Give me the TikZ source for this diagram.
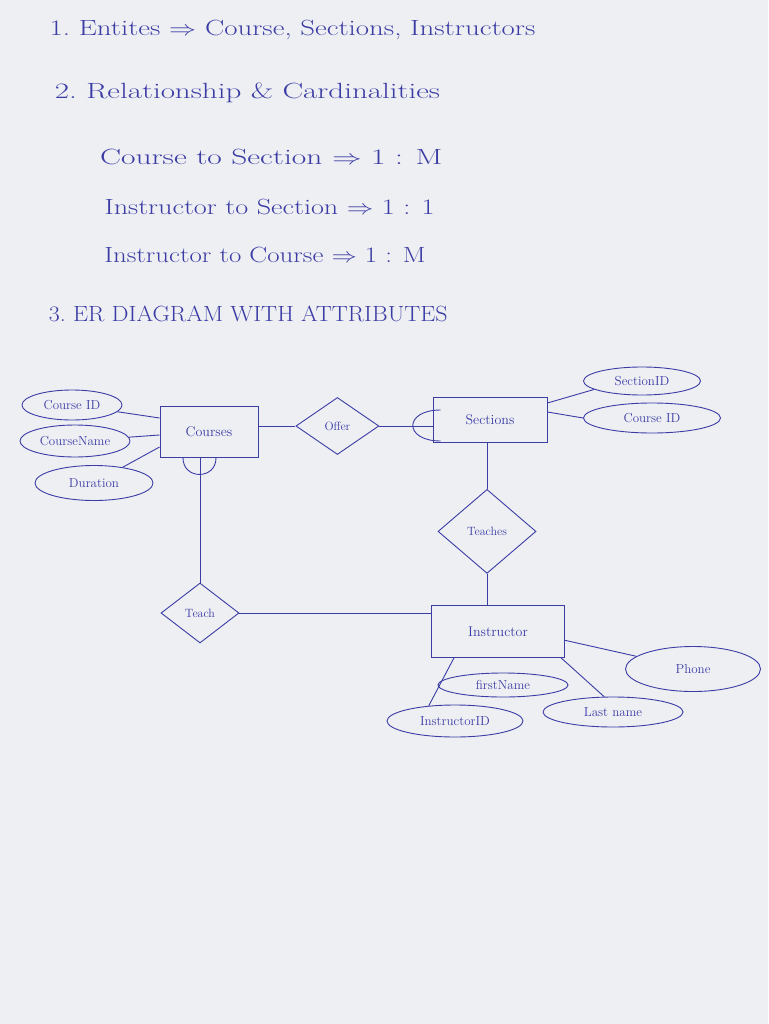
\documentclass[tikz,border=0pt]{standalone}
\usepackage{tikz}
\usetikzlibrary{positioning,shapes.geometric,calc}

\definecolor{ink}{RGB}{60,60,165}
\definecolor{paper}{RGB}{237,239,243}

\begin{document}
\begin{tikzpicture}[
    x=1pt, y=-1pt,
    every node/.style={text=ink},
    hand/.style={anchor=west, font=\fontsize{22}{26}\selectfont},
    entity/.style={draw=ink, line width=0.9pt, minimum width=98pt, minimum height=51pt, font=\fontsize{14}{16}\selectfont},
    rel/.style={draw=ink, line width=0.9pt, diamond, inner sep=0pt, font=\fontsize{12}{14}\selectfont},
    attr/.style={draw=ink, line width=0.9pt, ellipse, inner sep=0pt, font=\fontsize{13}{15}\selectfont},
    link/.style={draw=ink, line width=0.9pt}
]
\fill[paper] (0,0) rectangle (768,1024);
\useasboundingbox (0,0) rectangle (768,1024);

% notes
\node[hand, xscale=1.31] (entities) at (45,30) {1.\ Entites $\Rightarrow$ Course, Sections, Instructors};
\node[hand, xscale=1.41] (cards) at (50,93) {2.\ Relationship \& Cardinalities};
\node[hand, xscale=1.43] (c2s) at (95,157) {Course to Section $\Rightarrow$ 1 : M};
\node[hand, xscale=1.28] (i2s) at (100,207) {Instructor to Section $\Rightarrow$ 1 : 1};
\node[hand, xscale=1.22] (i2c) at (100,255) {Instructor to Course $\Rightarrow$ 1 : M};
\node[hand, xscale=1.09] (erhead) at (45,314) {3.\ ER DIAGRAM WITH ATTRIBUTES};

% entities and relationships
\node[entity] (courses) at (209,432) {Courses};
\node[rel, minimum width=83pt, minimum height=57pt, right=37pt of courses, yshift=6pt] (offer) {Offer};
\node[entity, minimum width=114pt, minimum height=45pt] (sections) at (490,420) {Sections};
\node[rel, minimum width=98pt, minimum height=84pt, below=46pt of sections, xshift=-3pt] (teaches) {Teaches};
\node[entity, minimum width=133pt, minimum height=52pt, below=31pt of teaches, xshift=11pt] (instructor) {Instructor};
\node[rel, minimum width=78pt, minimum height=60pt] (teach) at (200,613) {Teach};

% attributes
\node[attr, minimum width=100pt, minimum height=30pt] (cid) at (72,405) {Course ID};
\node[attr, minimum width=110pt, minimum height=32pt] (cname) at (75,441) {CourseName};
\node[attr, minimum width=118pt, minimum height=35pt] (dur) at (94,483) {Duration};
\node[attr, minimum width=117pt, minimum height=28pt] (sid) at (642,381) {SectionID};
\node[attr, minimum width=137pt, minimum height=30pt] (scid) at (652,418) {Course ID};
\node[attr, minimum width=135pt, minimum height=45pt] (phone) at (693,669) {Phone};
\node[attr, minimum width=130pt, minimum height=24pt] (fname) at (503,685) {firstName};
\node[attr, minimum width=136pt, minimum height=32pt] (iid) at (455,721) {InstructorID};
\node[attr, minimum width=140pt, minimum height=30pt] (lname) at (613,712) {Last name};

% connectors
\draw[link] (cid) -- ([yshift=14pt]courses.west);
\draw[link] (cname) -- ([yshift=-3pt]courses.west);
\draw[link] (dur) -- ([yshift=-15pt]courses.west);
\draw[link] (courses.east |- offer.west) -- (offer.west);
\draw[link] (offer.east) -- (offer.east -| sections.west);
\draw[link] ($(sections.west)+(8,-10)$) .. controls +(-37,0) and +(-37,0) .. ($(sections.west)+(8,21)$);
\draw[link] ([yshift=17pt]sections.east) -- (sid.190);
\draw[link] ([yshift=8pt]sections.east) -- (scid.west);
\draw[link] (sections.south -| teaches) -- (teaches.north);
\draw[link] (teaches.south) -- (teaches.south |- instructor.north);
\draw[link] (courses.south -| teach) -- (teach.north);
\draw[link] ($(courses.south -| teach)+(-17,0)$) .. controls +(0,22) and +(0,22) .. ($(courses.south -| teach)+(16,0)$);
\draw[link] (teach.east) -- (teach.east -| instructor.west);
\draw[link] ([yshift=-9pt]instructor.east) -- (phone);
\draw[link] ($(instructor.south)+(-18,0)$) -- ($(instructor.south)+(-18,0)$ |- fname.north);
\draw[link] ($(instructor.south west)+(23,0)$) -- (iid.150);
\draw[link] ($(instructor.south east)+(-4,0)$) -- (lname.120);
\end{tikzpicture}
\end{document}
